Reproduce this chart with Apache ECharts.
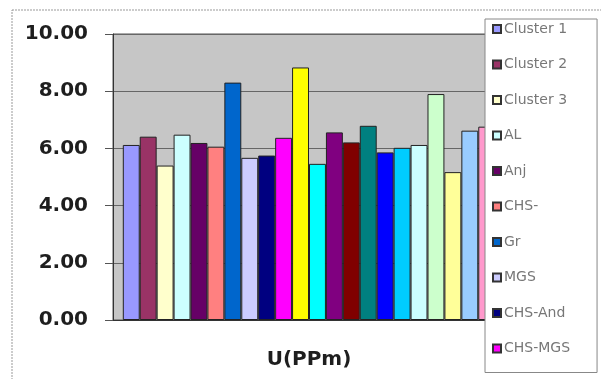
<!DOCTYPE html>
<html>
<head>
<meta charset="utf-8">
<script src="https://cdn.jsdelivr.net/npm/echarts@6/dist/echarts.min.js"></script>
<style>
html,body{margin:0;padding:0;background:#fff;}
#chart{width:601px;height:379px;}
</style>
</head>
<body>
<div id="chart"></div>
<script>
// Data
const categories = ['U(PPm)'];
const legendNames = ['Cluster 1', 'Cluster 2', 'Cluster 3', 'AL', 'Anj', 'CHS-', 'Gr', 'MGS', 'CHS-And', 'CHS-MGS'];
const barValues = [6.12, 6.41, 5.40, 6.48, 6.19, 6.06, 8.30, 5.67, 5.75, 6.37, 8.83,
                   5.46, 6.56, 6.21, 6.79, 5.86, 6.02, 6.12, 7.90, 5.17, 6.62, 6.76];
const barColors = ['#9999FF', '#993366', '#FFFFCC', '#CCFFFF', '#660066', '#FF8080', '#0066CC',
                   '#CCCCFF', '#000080', '#FF00FF', '#FFFF00', '#00FFFF', '#800080', '#800000',
                   '#008080', '#0000FF', '#00CCFF', '#CCFFFF', '#CCFFCC', '#FFFF99', '#99CCFF', '#FF99CC'];
const yTickValues = [0, 2, 4, 6, 8, 10];

const chart = echarts.init(document.getElementById('chart'), null, {renderer: 'canvas'});

const series = barValues.map((v, i) => ({
  type: 'bar',
  name: i < legendNames.length ? legendNames[i] : undefined,
  data: [v],
  barGap: '0%',
  barCategoryGap: '5%',
  itemStyle: {color: barColors[i], borderColor: '#222', borderWidth: 1},
  emphasis: {disabled: true}
}));

chart.setOption({
  animation: false,
  backgroundColor: '#ffffff',
  graphic: [{
    type: 'rect',
    z: -10,
    shape: {x: 12, y: 10, width: 600, height: 380},
    style: {fill: 'none', stroke: '#999', lineWidth: 1, lineDash: [2, 1]}
  }],
  grid: {
    left: 113, top: 34, right: 96, bottom: 59,
    show: true,
    backgroundColor: '#c6c6c6',
    borderColor: '#555',
    borderWidth: 1
  },
  legend: {
    data: legendNames,
    orient: 'vertical',
    left: 485,
    top: 19,
    padding: [2, 27, 16, 7],
    itemGap: 19.5,
    itemWidth: 8,
    itemHeight: 8,
    icon: 'rect',
    backgroundColor: '#ffffff',
    borderColor: '#888',
    borderWidth: 1,
    z: 10,
    selectedMode: false,
    itemStyle: {borderColor: '#333', borderWidth: 2},
    textStyle: {fontFamily: 'DejaVu Sans', fontSize: 14, color: '#777', lineHeight: 16, padding: [0, 0, 0, -2]}
  },
  xAxis: {
    type: 'category',
    data: categories,
    axisLine: {lineStyle: {color: '#333', width: 1}},
    axisTick: {show: false},
    axisLabel: {
      margin: 30,
      fontFamily: 'DejaVu Sans',
      fontWeight: 'bold',
      fontSize: 20,
      color: '#1e1e1e'
    }
  },
  yAxis: {
    type: 'value',
    min: yTickValues[0],
    max: yTickValues[yTickValues.length - 1],
    interval: 2,
    axisLine: {show: true, lineStyle: {color: '#333', width: 1}},
    axisTick: {show: true, length: 8, lineStyle: {color: '#555'}},
    splitLine: {show: true, lineStyle: {color: '#666', width: 1}},
    axisLabel: {
      margin: 25,
      fontFamily: 'DejaVu Sans',
      fontWeight: 'bold',
      fontSize: 20,
      color: '#1e1e1e',
      formatter: v => v.toFixed(2)
    }
  },
  series: series
});
</script>
</body>
</html>
